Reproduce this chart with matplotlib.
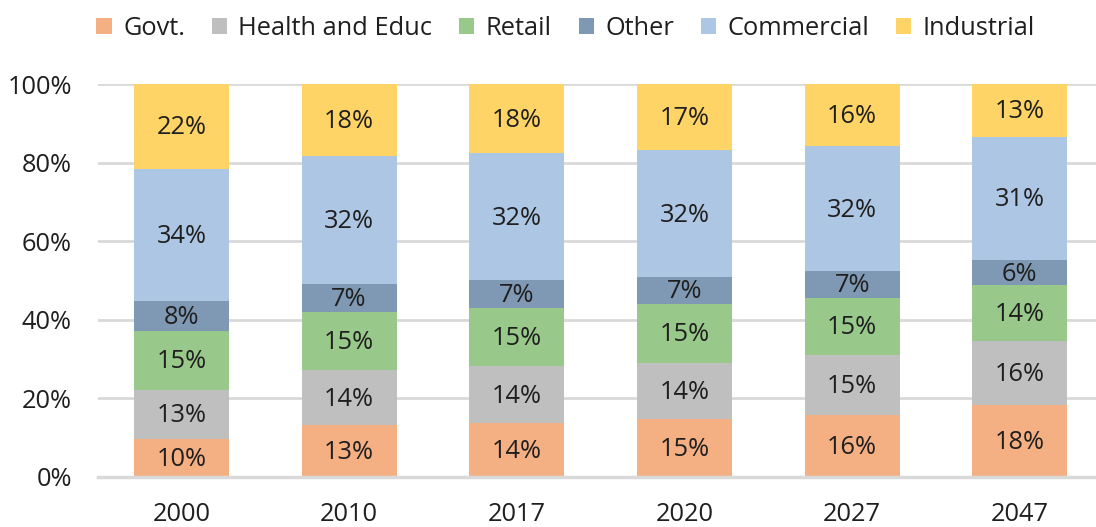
import matplotlib
matplotlib.use("Agg")
import matplotlib.pyplot as plt
import numpy as np

years = ["2000", "2010", "2017", "2020", "2027", "2047"]
series_names = ["Govt.", "Health and Educ", "Retail", "Other", "Commercial", "Industrial"]
govt = [9.6, 13.1, 13.7, 14.6, 15.7, 18.3]
health = [12.6, 14.0, 14.4, 14.4, 15.3, 16.3]
retail = [15.0, 14.8, 14.8, 15.0, 14.6, 14.2]
other = [7.6, 7.3, 7.1, 6.9, 6.8, 6.4]
commercial = [33.6, 32.4, 32.4, 32.2, 31.8, 31.4]
industrial = [21.6, 18.4, 17.6, 16.9, 15.8, 13.4]
colors = ["#F4AF83", "#BFBFBF", "#98C88A", "#7F99B4", "#ADC6E3", "#FFD466"]

plt.rcParams['font.family'] = ['Open Sans', 'DejaVu Sans']
text_color = "#1F1F1F"
fs = 18.3

fig = plt.figure(figsize=(10.96, 5.27), dpi=100)
ax = fig.add_axes([0.089, 0.0954, 0.918, 0.7452])

x = np.arange(len(years))
bottom = np.zeros(len(years))
all_series = [govt, health, retail, other, commercial, industrial]
handles = []
for name, vals, c in zip(series_names, all_series, colors):
    vals = np.array(vals)
    bars = ax.bar(x, vals, 0.567, bottom=bottom, color=c, label=name, zorder=3)
    handles.append(bars)
    for xi, b, v in zip(x, bottom, vals):
        ax.text(xi, b + v / 2 - 0.4, f"{v:.0f}%", ha="center", va="center",
                fontsize=fs, color=text_color, zorder=4)
    bottom += vals

ax.set_xlim(-0.5, len(years) - 0.5)
ax.set_ylim(0, 100)
ax.set_yticks([0, 20, 40, 60, 80, 100])
ax.set_yticklabels([f"{v}%" for v in [0, 20, 40, 60, 80, 100]])
ax.set_xticks(x)
ax.set_xticklabels(years)
ax.tick_params(axis="both", length=0, labelsize=fs, colors=text_color)
ax.tick_params(axis="y", pad=18.5)
ax.tick_params(axis="x", pad=18)
ax.grid(axis="y", color="#D9D9D9", linewidth=2, zorder=0)
for s in ["top", "right", "left"]:
    ax.spines[s].set_visible(False)
ax.spines["bottom"].set_color("#D9D9D9")
ax.spines["bottom"].set_linewidth(2.5)
ax.spines["bottom"].set_zorder(5)

fig.legend(handles=handles, labels=series_names, loc="center", ncol=6,
           bbox_to_anchor=(0.516, 0.946), frameon=False, fontsize=fs,
           handlelength=0.6, handleheight=0.6, handletextpad=0.45,
           columnspacing=1.05, labelcolor=text_color)

fig.savefig("out.png", dpi=100)
